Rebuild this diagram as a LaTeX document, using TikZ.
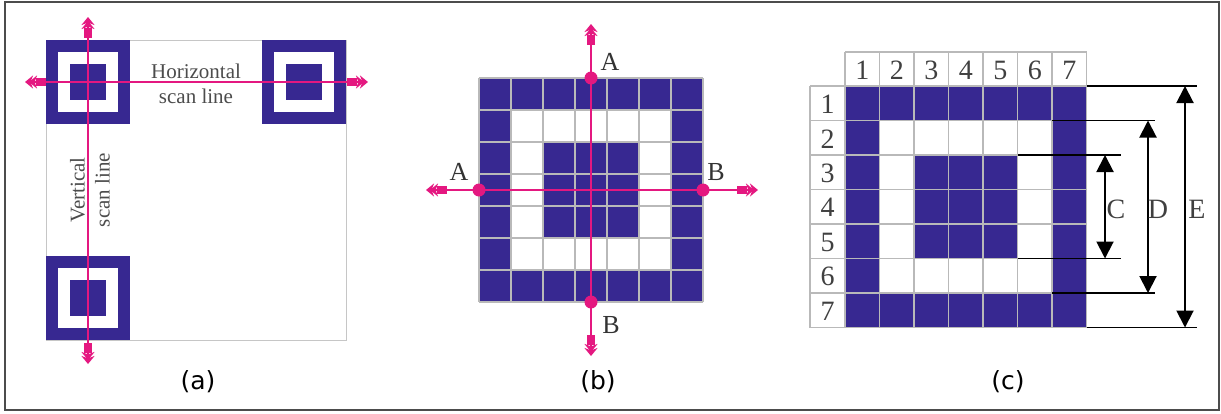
\documentclass[tikz,border=0pt]{standalone}
\usepackage{fontspec}
\setmainfont{Liberation Serif}
\newfontfamily\capfont{DejaVu Sans}
\usetikzlibrary{arrows.meta}
\definecolor{qrblue}{RGB}{55,40,145}
\definecolor{scanpink}{RGB}{228,24,128}
\tikzstyle{module}=[fill=qrblue]
\tikzstyle{gridline}=[draw=gray!55, line width=0.6pt]
\tikzstyle{scanline}=[draw=scanpink, line width=0.8pt, -{Rectangle[length=5pt,width=4pt,sep=-0.5pt] Stealth[length=4pt,width=6.5pt,inset=1.2pt,sep=-2pt] Stealth[length=4pt,width=6.5pt,inset=1.2pt]}]
\tikzstyle{scandot}=[circle, fill=scanpink, inner sep=0pt, minimum size=6.5pt]
\tikzstyle{ablabel}=[font=\fontsize{13}{14}\selectfont, text=black!80]
\tikzstyle{numlabel}=[font=\fontsize{14}{15}\selectfont, text=black!75]
\tikzstyle{scantext}=[font=\fontsize{10.5}{12.5}\selectfont, text=black!70, align=center]
\tikzstyle{panelcap}=[font=\capfont\fontsize{12.5}{14}\selectfont]
\tikzstyle{dimline}=[draw=black, line width=0.8pt]
\tikzstyle{dimarrow}=[draw=black, line width=1pt, {Triangle[length=8.5pt,width=8.5pt]}-{Triangle[length=8.5pt,width=8.5pt]}]

\begin{document}
\begin{tikzpicture}[x=0.5pt, y=-0.5pt]
	\useasboundingbox (0,0) rectangle (1221,413);
	\draw[black!70, line width=1pt] (5,2) rectangle (1219,410);

	% (a) symbol with three finder patterns
	\draw[gray!45, line width=0.5pt] (46,40) rectangle (346,340);
	\foreach \x/\y in {46/40, 262/40, 46/256}{
		\fill[module] (\x,\y) rectangle ++(84,84);
		\fill[white] (\x+12,\y+12) rectangle ++(60,60);
		\fill[module] (\x+24,\y+24) rectangle ++(36,36);
	}
	\coordinate (hmid) at (196,82);
	\coordinate (hleft) at (25,82);
	\coordinate (hright) at (368,82);
	\coordinate (vmid) at (88,190);
	\coordinate (vtop) at (88,17);
	\coordinate (vbottom) at (88,364);
	\draw[scanline] (hmid) -- (hleft);
	\draw[scanline] (hmid) -- (hright);
	\draw[scanline] (vmid) -- (vtop);
	\draw[scanline] (vmid) -- (vbottom);
	\node[scantext] (htext) at (196,84) {Horizontal\\scan line};
	\node[scantext, rotate=90] (vtext) at (90,190) {Vertical\\scan line};
	\node[panelcap] (capa) at (198,382) {(a)};

	% (b) finder pattern on a module grid
	\fill[module] (479,78) rectangle (703,302);
	\fill[white] (511,110) rectangle (671,270);
	\fill[module] (543,142) rectangle (639,238);
	\foreach \i in {0,...,7}{
		\draw[gridline] (479+32*\i,78) -- (479+32*\i,302);
		\draw[gridline] (479,78+32*\i) -- (703,78+32*\i);
	}
	\coordinate (bmid) at (591,190);
	\coordinate (btop) at (591,24);
	\coordinate (bbottom) at (591,356);
	\coordinate (bleft) at (426,190);
	\coordinate (bright) at (758,190);
	\draw[scanline] (bmid) -- (btop);
	\draw[scanline] (bmid) -- (bbottom);
	\draw[scanline] (bmid) -- (bleft);
	\draw[scanline] (bmid) -- (bright);
	\node[scandot] (dtop) at (591,78) {};
	\node[scandot] (dbottom) at (591,302) {};
	\node[scandot] (dleft) at (479,190) {};
	\node[scandot] (dright) at (703,190) {};
	\node[ablabel] (atop) at (610,62) {A};
	\node[ablabel] (bbot) at (611,325) {B};
	\node[ablabel] (aleft) at (459,172) {A};
	\node[ablabel] (bright) at (716,172) {B};
	\node[panelcap] (capb) at (598,382) {(b)};

	% (c) numbered module grid with widths
	\fill[module] (845,86) rectangle (1086.5,327.5);
	\fill[white] (879.5,120.5) rectangle (1052,293);
	\fill[module] (914,155) rectangle (1017.5,258.5);
	\foreach \i in {0,...,7}{
		\draw[gridline] (845+34.5*\i,52) -- (845+34.5*\i,327.5);
		\draw[gridline] (810,86+34.5*\i) -- (1086.5,86+34.5*\i);
	}
	\draw[gridline] (845,52) -- (1086.5,52);
	\draw[gridline] (810,86) -- (810,327.5);
	\foreach \n in {1,...,7}{
		\node[numlabel] (col\n) at (827.75+34.5*\n,70) {\n};
		\node[numlabel] (row\n) at (827.5,69.75+34.5*\n) {\n};
	}
	\coordinate (c1) at (1017.5,155);  \coordinate (c2) at (1121,155);
	\coordinate (c3) at (1017.5,258.5); \coordinate (c4) at (1121,258.5);
	\coordinate (d1) at (1052,120.5);  \coordinate (d2) at (1155,120.5);
	\coordinate (d3) at (1052,293);    \coordinate (d4) at (1155,293);
	\coordinate (e1) at (1086.5,86);   \coordinate (e2) at (1197,86);
	\coordinate (e3) at (1086.5,327.5); \coordinate (e4) at (1197,327.5);
	\draw[dimline] (c1) -- (c2);  \draw[dimline] (c3) -- (c4);
	\draw[dimline] (d1) -- (d2);  \draw[dimline] (d3) -- (d4);
	\draw[dimline] (e1) -- (e2);  \draw[dimline] (e3) -- (e4);
	\coordinate (ctop) at (1105,155);  \coordinate (cbot) at (1105,258.5);
	\coordinate (dtop) at (1148,120.5); \coordinate (dbot) at (1148,293);
	\coordinate (etop) at (1185,86);   \coordinate (ebot) at (1185,327.5);
	\draw[dimarrow] (ctop) -- (cbot);
	\draw[dimarrow] (dtop) -- (dbot);
	\draw[dimarrow] (etop) -- (ebot);
	\node[numlabel] (clabel) at (1116,209) {C};
	\node[numlabel] (dlabel) at (1158,209) {D};
	\node[numlabel] (elabel) at (1197,209) {E};
	\node[panelcap] (capc) at (1008,382) {(c)};
\end{tikzpicture}
\end{document}
